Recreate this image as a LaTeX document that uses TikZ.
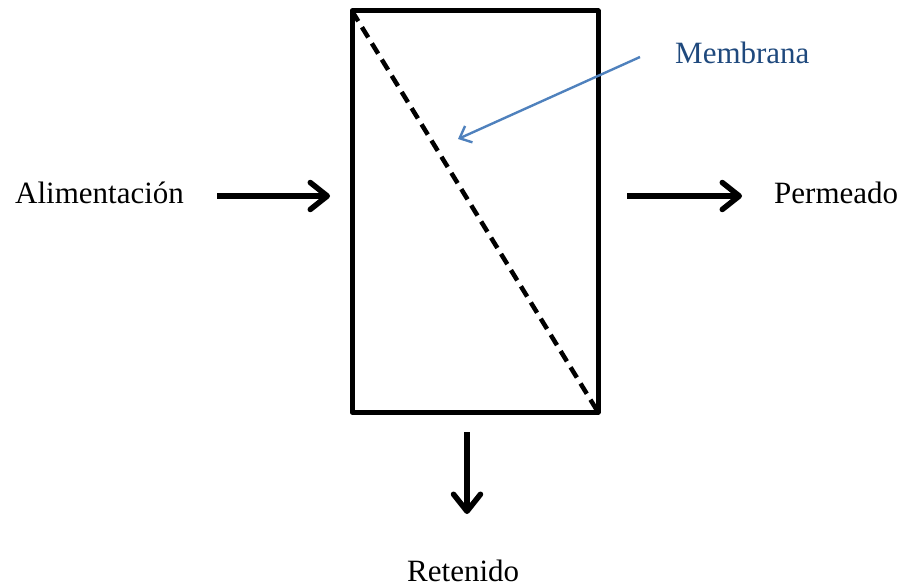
\documentclass[tikz,border=0pt]{standalone}
\usepackage{fontspec}
\setmainfont{Liberation Serif}
\usetikzlibrary{arrows.meta}
\definecolor{memblue}{RGB}{79,129,189}
\definecolor{memtext}{RGB}{31,73,125}
\tikzset{
  lbl/.style={inner sep=0pt, anchor=base west, font=\fontsize{31}{36}\selectfont},
  flow/.style={line width=5.5pt, -{Straight Barb[length=17pt, width=27pt, line width=5.5pt, round]}},
  boxline/.style={line width=5pt, line join=round},
}
\begin{document}
\begin{tikzpicture}[x=1pt,y=-1pt]
\useasboundingbox (0,0) rectangle (904,588);
% module box
\coordinate (tl) at (352,11);
\coordinate (br) at (598,412);
\draw[boxline] (tl) rectangle (br);
\draw[line width=4.5pt, dash pattern=on 12pt off 7pt] (tl) -- (br);
% labels
\node[lbl] (alim) at (15,203) {Alimentación};
\node[lbl] (perm) at (774,203) {Permeado};
\node[lbl] (ret) at (407,581) {Retenido};
\node[lbl, text=memtext] (memb) at (675,64) {Membrana};
% flow arrows
\coordinate (a1) at (217,196);
\coordinate (a2) at (330,196);
\coordinate (p1) at (627,196);
\coordinate (p2) at (742,196);
\coordinate (r1) at (467,432);
\coordinate (r2) at (467,514);
\draw[flow] (a1) -- (a2);
\draw[flow] (p1) -- (p2);
\draw[flow] (r1) -- (r2);
% membrane pointer
\coordinate (m1) at (640,57);
\coordinate (m2) at (458,139);
\draw[memblue, line width=2.4pt, -{Straight Barb[length=10pt, width=18pt, line width=2.4pt]}] (m1) -- (m2);
\end{tikzpicture}
\end{document}
